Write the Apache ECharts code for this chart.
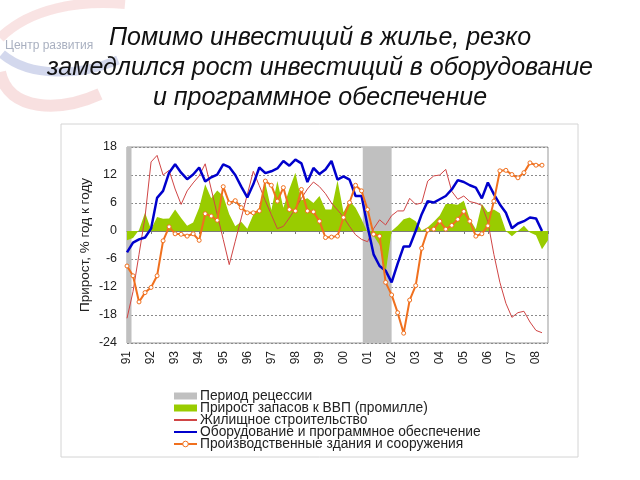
<!DOCTYPE html>
<html><head><meta charset="utf-8">
<script src="https://cdn.jsdelivr.net/npm/echarts@6/dist/echarts.min.js"></script>
<style>html,body{margin:0;padding:0;background:#fff}#c{width:640px;height:480px}</style>
</head><body><div id="c"></div>
<script>
// Quarterly data, 1991 Q1 = index 0
const yearLabels = ['91','92','93','94','95','96','97','98','99','00','01','02','03','04','05','06','07','08'];
const recessions = [[0, 0.75], [39.2, 44]];

const housing = [-18.7,-13,-5,3,14.8,16.2,12,13,9,5.7,8.6,10.3,11.8,14.4,9,3.6,-1.8,-7.2,-2.2,2.8,7.8,12.8,9.7,6.5,3.5,0.5,1,2.8,4.8,7,9,10.5,9.5,8,6,4.5,3,1,-0.8,-1.8,-2.3,0.5,2.4,1.3,3.3,4.3,4.3,7,5.7,6,10.7,11.8,12,13.2,8.5,6.8,7.5,6.3,6,5.5,2,-5,-11,-15.5,-18.5,-17.5,-17.2,-19.5,-21.3,-21.8];

const equipment = [-4.6,-2.5,-1.8,-1.4,0.5,7.1,8.6,12.5,14.3,12.5,11.1,12.1,13.6,10.6,11.5,12.1,14.3,13.7,12,9.5,7.2,10,13.6,12.4,12.8,13.4,15,14,15.3,14.5,10.5,13.5,12.2,13.2,15,11,11.7,11,7.5,7.5,1,-5,-7.5,-8.5,-11,-7,-3.3,-3.3,0,3.6,6.4,6.1,6.8,7.5,8.9,10.9,10.5,9.8,9.3,7,10.4,7.9,5.7,3.9,0.6,1.6,2.1,2.9,2.7,0];

const structures = [-7.5,-9.6,-15.2,-13.2,-12.1,-9.6,-2.1,0.9,-0.6,-0.7,-1.1,-0.6,-2,3.7,3.2,2.3,9.5,6,6.5,5,3.9,3.9,4.3,10.7,9.8,6.4,9.3,4.6,4.3,8.9,4.3,4.1,2.1,-1.4,-1.3,-1.1,2.9,6.1,9.8,8.6,4.6,-0.7,-1.1,-11,-13.7,-17.5,-21.9,-14.8,-11.7,-3.7,0.2,0.4,2.1,0.4,1.2,2.5,4.2,2.1,-1.1,-0.6,1.1,6.4,12.9,13,12.1,11.4,12.5,14.6,14.1,14.1];

const inventories = [-2,-1.5,0.2,3.9,0.3,3,2.6,2.7,4.6,2.8,1.1,1.8,5,10,7,8.7,7.5,3.6,1,2,0.5,3.5,5,10.3,4.5,10.7,5,9,12.5,6.6,7,6,7.5,4.6,4.6,10.8,4,6.5,5,2.5,-0.3,-1,-3,-9,0,1.1,2.5,2.9,2.1,0.1,0.8,2,3.3,5.8,5.8,5.6,6.5,2.5,0.4,5.8,4,4.6,3.8,0,-1.1,0,1.1,-0.3,-0.9,-3.9,-2];

const names = ['Период рецессии','Прирост запасов к ВВП (промилле)','Жилищное строительство','Оборудование и программное обеспечение','Производственные здания и сооружения'];
const titleText = 'Помимо инвестиций в жилье, резко\nзамедлился рост инвестиций в оборудование\nи программное обеспечение';
const yAxisName = 'Прирост, % год к году';

const pts = arr => arr.map((v, i) => [i, v]);
const FONT = 'Liberation Sans';

const chart = echarts.init(document.getElementById('c'), null, {renderer: 'canvas'});
chart.setOption({
  backgroundColor: '#fff',
  animation: false,
  textStyle: {fontFamily: FONT},
  graphic: [
    {type: 'bezierCurve', silent: true, shape: {x1: 0, y1: 38, cpx1: 30, cpy1: 8, cpx2: 80, cpy2: 0, x2: 125, y2: 4}, style: {stroke: 'rgba(215,70,70,0.15)', lineWidth: 10, fill: null}},
    {type: 'bezierCurve', silent: true, shape: {x1: 2, y1: 54, cpx1: 30, cpy1: 78, cpx2: 80, cpy2: 76, x2: 118, y2: 60}, style: {stroke: 'rgba(70,90,180,0.24)', lineWidth: 9, fill: null}},
    {type: 'bezierCurve', silent: true, shape: {x1: 0, y1: 72, cpx1: 8, cpy1: 112, cpx2: 60, cpy2: 112, x2: 100, y2: 94}, style: {stroke: 'rgba(215,70,70,0.17)', lineWidth: 12, fill: null}},
    {type: 'text', silent: true, x: 5, y: 40, style: {text: 'Центр развития', fontFamily: FONT, fontSize: 12, fill: '#a9b0c0'}},
    {type: 'text', silent: true, x: 320, y: 23, z: 10, style: {text: titleText, textAlign: 'center', fontFamily: FONT, fontSize: 25, fontStyle: 'italic', fill: '#111', lineHeight: 30}},
    {type: 'rect', silent: true, shape: {x: 61, y: 124, width: 517, height: 333}, style: {fill: null, stroke: '#d4d4d4', lineWidth: 1}}
  ],
  legend: {
    orient: 'vertical', left: 173, top: 389, padding: 0,
    itemWidth: 23, itemHeight: 7, itemGap: -2,
    textStyle: {fontFamily: FONT, fontSize: 13.8, color: '#222', lineHeight: 12, padding: [0, 0, 0, -2]},
    data: [
      {name: names[0], icon: 'rect'},
      {name: names[1], icon: 'rect'},
      {name: names[2], itemStyle: {opacity: 0}},
      {name: names[3], itemStyle: {opacity: 0}},
      {name: names[4], itemStyle: {color: '#fff', borderColor: '#f0701e', borderWidth: 1}}
    ]
  },
  grid: {left: 127, top: 147, width: 421, height: 196, show: true, borderColor: '#999', borderWidth: 1, backgroundColor: 'transparent', containLabel: false},
  xAxis: [
    {
      type: 'value', min: 0, max: 70, interval: 4, position: 'bottom',
      axisLine: {show: false, onZero: false}, axisTick: {show: false}, splitLine: {show: false},
      axisLabel: {rotate: 90, margin: 8, fontSize: 12, color: '#222', fontFamily: FONT,
        formatter: v => yearLabels[v / 4] || ''}
    },
    {
      type: 'value', min: 0, max: 70, interval: 4, position: 'bottom',
      axisLine: {show: true, onZero: true, lineStyle: {color: '#7a7a7a', width: 1}},
      axisTick: {show: true, length: 3, lineStyle: {color: '#7a7a7a'}},
      axisLabel: {show: false}, splitLine: {show: false}
    }
  ],
  yAxis: {
    type: 'value', min: -24, max: 18, interval: 6,
    axisLine: {show: false}, axisTick: {show: false},
    axisLabel: {fontSize: 12.5, color: '#222', margin: 10, fontFamily: FONT},
    splitLine: {show: true, lineStyle: {color: '#8a8a8a', type: [2, 2], width: 1}},
    name: yAxisName, nameLocation: 'middle', nameRotate: 90, nameGap: 35, nameMoveOverlap: false,
    nameTextStyle: {fontSize: 13.5, color: '#222', fontFamily: FONT}
  },
  series: [
    {
      name: names[0], type: 'line', xAxisIndex: 0, z: 1, data: [[0, null]], showSymbol: false,
      itemStyle: {color: '#c0c0c0'}, lineStyle: {width: 0},
      markArea: {silent: true, itemStyle: {color: '#c0c0c0'},
        data: recessions.map(r => [{xAxis: r[0]}, {xAxis: r[1]}])}
    },
    {
      name: names[1], type: 'line', xAxisIndex: 0, z: 2, data: pts(inventories), symbol: 'none',
      itemStyle: {color: '#99cc00'}, lineStyle: {width: 0, color: '#99cc00'},
      areaStyle: {color: '#99cc00', opacity: 1, origin: 0}
    },
    {
      name: names[2], type: 'line', xAxisIndex: 0, z: 3, data: pts(housing), symbol: 'none',
      itemStyle: {color: '#d04545'}, lineStyle: {width: 1, color: '#d04545'}
    },
    {
      name: names[3], type: 'line', xAxisIndex: 0, z: 4, data: pts(equipment), symbol: 'none',
      itemStyle: {color: '#0000cc'}, lineStyle: {width: 2.5, color: '#0000cc'}
    },
    {
      name: names[4], type: 'line', xAxisIndex: 0, z: 5, data: pts(structures),
      symbol: 'circle', symbolSize: 4, showSymbol: true,
      itemStyle: {color: '#fff', borderColor: '#f0701e', borderWidth: 1},
      lineStyle: {width: 2, color: '#f0701e'}
    }
  ]
});
</script>
</body></html>
